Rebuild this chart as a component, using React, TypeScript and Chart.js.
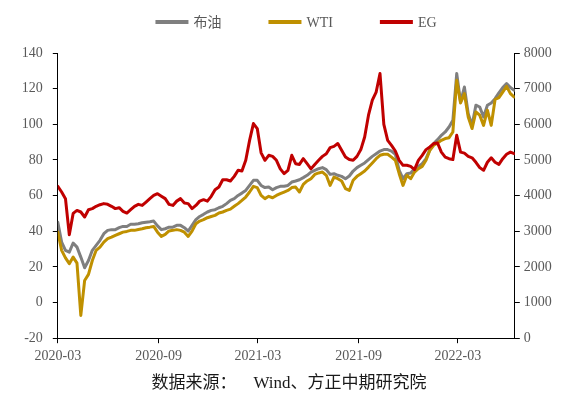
import React, { useEffect, useRef } from 'react';
import { Chart, registerables } from 'chart.js';

Chart.register(...registerables);

// Weekly samples starting 2020-03-01 (x = days since start)
const STEP_DAYS = 7;

const brent = [
  45.1, 33.9, 29.3, 28.3, 33.4, 31.1, 25.5, 19.5, 23.6, 29.3,
  32.1, 34.9, 38.6, 40.5, 40.9, 40.9, 42.0, 42.7, 42.7, 43.9,
  43.9, 44.2, 44.8, 45.1, 45.3, 45.7, 43.0, 40.9, 41.4, 42.3,
  42.3, 43.3, 43.3, 42.0, 40.1, 43.3, 46.5, 48.3, 49.5, 50.8,
  51.7, 52.1, 53.2, 54.0, 55.5, 57.3, 58.3, 60.1, 61.4, 62.9,
  65.7, 68.6, 68.6, 65.7, 64.5, 64.8, 63.3, 64.5, 65.2, 65.2,
  65.7, 67.6, 68.2, 68.9, 70.1, 71.4, 73.2, 74.2, 75.1, 75.7,
  74.6, 71.9, 72.3, 71.4, 70.8, 69.5, 71.0, 73.8, 75.7, 77.0,
  78.3, 80.2, 82.0, 83.5, 85.0, 85.8, 85.8, 85.0, 83.2, 74.2,
  69.5, 72.3, 72.7, 75.1, 76.4, 77.9, 80.7, 85.8, 89.2, 91.4,
  93.8, 95.7, 98.5, 102.2, 128.5, 112.5, 120.9, 106.0, 99.4, 110.7,
  109.7, 104.1, 110.7, 112.0, 114.4, 117.6, 120.6, 122.8, 120.6, 119.1,
];

const wti = [
  39.5, 29.3, 25.1, 21.8, 25.5, 22.1, -7.2, 12.4, 15.8, 23.6,
  29.3, 31.1, 33.9, 35.8, 36.7, 37.7, 38.6, 39.5, 39.9, 40.5,
  40.5, 41.0, 41.4, 42.0, 42.3, 42.7, 39.5, 37.1, 38.2, 40.2,
  40.5, 40.9, 40.5, 39.5, 37.1, 40.1, 44.2, 45.7, 46.5, 47.6,
  48.3, 48.9, 50.2, 50.8, 51.7, 52.4, 54.0, 55.5, 57.3, 59.2,
  62.0, 65.2, 64.5, 60.1, 58.3, 59.6, 58.8, 60.1, 61.1, 62.0,
  62.9, 64.5, 64.8, 62.0, 66.3, 68.2, 69.5, 71.9, 72.7, 73.2,
  71.4, 65.7, 70.4, 69.5, 68.2, 63.9, 62.9, 68.6, 70.8, 72.3,
  73.8, 76.0, 78.3, 80.7, 82.6, 83.2, 83.2, 81.6, 79.8, 72.3,
  65.7, 71.4, 69.5, 73.2, 75.1, 76.4, 79.8, 85.4, 88.2, 89.5,
  91.0, 92.0, 92.5, 95.7, 124.7, 112.0, 117.2, 104.1, 97.6, 106.9,
  105.1, 99.4, 107.9, 99.4, 113.9, 115.0, 118.1, 121.3, 117.2, 115.3,
];

const eg = [
  4260, 4100, 3915, 2900, 3500, 3585, 3540, 3400, 3605, 3635,
  3700, 3745, 3775, 3755, 3700, 3635, 3660, 3560, 3510, 3605,
  3700, 3755, 3725, 3820, 3915, 4005, 4055, 3985, 3915, 3755,
  3725, 3845, 3915, 3790, 3775, 3635, 3725, 3845, 3885, 3845,
  3980, 4165, 4240, 4445, 4445, 4410, 4540, 4710, 4690, 4990,
  5550, 6020, 5880, 5200, 4990, 5130, 5100, 4990, 4750, 4615,
  4710, 5130, 4895, 4875, 5035, 4895, 4750, 4875, 4990, 5100,
  5175, 5345, 5380, 5460, 5270, 5080, 5010, 4990, 5100, 5290,
  5645, 6255, 6675, 6905, 7425, 6000, 5550, 5410, 5250, 4990,
  4850, 4850, 4820, 4730, 4990, 5130, 5290, 5365, 5460, 5475,
  5220, 5080, 5035, 5010, 5690, 5220, 5190, 5100, 5060, 4935,
  4785, 4710, 4935, 5060, 4935, 4875, 5035, 5160, 5220, 5175,
];

const xTickDays = [0, 184, 365, 549, 730];
const xTickLabels = ['2020-03', '2020-09', '2021-03', '2021-09', '2022-03'];
const X_MAX = 834;

const seriesNames = ['布油', 'WTI', 'EG'];
const seriesColors = ['#7F7F7F', '#BF9000', '#C00000'];
const sourceText = '数据来源：    Wind、方正中期研究院';

const FONT = "'Liberation Serif', 'Times New Roman', 'Noto Sans CJK SC', serif";
const TICK_COLOR = '#595959';

const legendPlugin = {
  id: 'customLegend',
  afterDraw(chart: any) {
    const ctx = chart.ctx;
    ctx.save();
    ctx.font = `14px ${FONT}`;
    const lineW = 33;
    const gapT = 5;
    const gapItem = 47;
    const widths = seriesNames.map((n) => lineW + gapT + ctx.measureText(n).width);
    const total = widths.reduce((a, b) => a + b, 0) + gapItem * (seriesNames.length - 1);
    let x = chart.width / 2 + 7 - total / 2;
    const y = 22;
    seriesNames.forEach((n, i) => {
      ctx.strokeStyle = seriesColors[i];
      ctx.lineWidth = 4;
      ctx.lineCap = 'butt';
      ctx.beginPath();
      ctx.moveTo(x, y);
      ctx.lineTo(x + lineW, y);
      ctx.stroke();
      ctx.fillStyle = TICK_COLOR;
      ctx.textBaseline = 'middle';
      ctx.textAlign = 'left';
      ctx.fillText(n, x + lineW + gapT, y + 1);
      x += widths[i] + gapItem;
    });
    ctx.restore();
  },
};

export default function App() {
  const ref = useRef<HTMLCanvasElement | null>(null);

  useEffect(() => {
    document.body.style.margin = '0';
    const canvas = ref.current;
    if (!canvas) return;
    const days = brent.map((_, i) => i * STEP_DAYS);
    const toPts = (arr: number[]) => arr.map((v, i) => ({ x: days[i], y: v }));

    const common = {
      borderWidth: 3,
      pointRadius: 0,
      pointHoverRadius: 0,
      tension: 0,
      fill: false,
      borderJoinStyle: 'round' as const,
      borderCapStyle: 'round' as const,
    };

    const chart = new Chart(canvas, {
      type: 'line',
      data: {
        datasets: [
          { ...common, label: seriesNames[2], data: toPts(eg), borderColor: seriesColors[2], backgroundColor: seriesColors[2], yAxisID: 'y1' },
          { ...common, label: seriesNames[1], data: toPts(wti), borderColor: seriesColors[1], backgroundColor: seriesColors[1], yAxisID: 'y' },
          { ...common, label: seriesNames[0], data: toPts(brent), borderColor: seriesColors[0], backgroundColor: seriesColors[0], yAxisID: 'y' },
        ],
      },
      options: {
        responsive: false,
        animation: false,
        parsing: false as any,
        layout: { padding: { top: 53, left: 0, right: 0, bottom: 0 } },
        plugins: {
          legend: { display: false },
          tooltip: { enabled: false },
          title: {
            display: true,
            position: 'bottom',
            text: sourceText,
            color: '#1a1a1a',
            font: { family: FONT, size: 17, weight: 'normal' as any },
            padding: { top: 5, bottom: 5 },
          },
        },
        scales: {
          x: {
            type: 'linear',
            min: 0,
            max: X_MAX,
            afterBuildTicks: (s: any) => {
              s.ticks = xTickDays.map((v) => ({ value: v }));
            },
            afterFit: (s: any) => {
              s.height = 30.4;
            },
            ticks: {
              autoSkip: false,
              maxRotation: 0,
              color: TICK_COLOR,
              font: { family: FONT, size: 14 },
              padding: 5,
              callback: (v: any) => {
                const k = xTickDays.indexOf(Number(v));
                return k >= 0 ? xTickLabels[k] : '';
              },
            },
            grid: { drawOnChartArea: false, drawTicks: true, tickLength: 5, color: '#000' },
            border: { color: '#000', width: 1 },
          },
          y: {
            type: 'linear',
            position: 'left',
            min: -20,
            max: 140,
            afterFit: (s: any) => {
              s.width = 57.8;
            },
            ticks: {
              stepSize: 20,
              color: TICK_COLOR,
              font: { family: FONT, size: 14 },
              padding: 10,
              callback: (v: any) => String(v),
            },
            grid: { drawOnChartArea: false, drawTicks: true, tickLength: 5, color: '#000' },
            border: { color: '#000', width: 1 },
          },
          y1: {
            type: 'linear',
            position: 'right',
            min: 0,
            max: 8000,
            afterFit: (s: any) => {
              s.width = 63.2;
            },
            ticks: {
              stepSize: 1000,
              color: TICK_COLOR,
              font: { family: FONT, size: 14 },
              padding: 4,
              callback: (v: any) => String(v),
            },
            grid: { drawOnChartArea: false, drawTicks: true, tickLength: 5, color: '#000' },
            border: { color: '#000', width: 1 },
          },
        },
      },
      plugins: [legendPlugin],
    });

    return () => chart.destroy();
  }, []);

  return (
    <div style={{ width: 578, height: 399, background: '#fff' }}>
      <canvas ref={ref} width={578} height={399} />
    </div>
  );
}
